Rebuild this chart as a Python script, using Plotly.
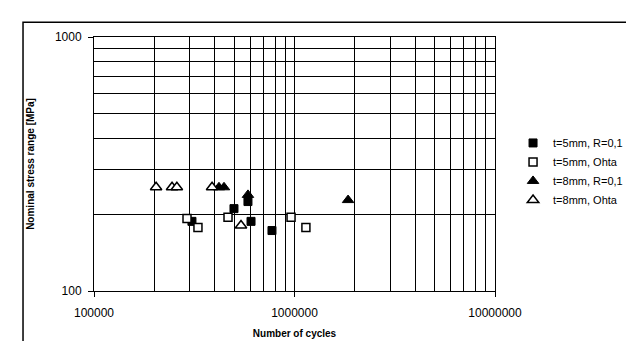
import plotly.graph_objects as go

# ---- data ----
cycles_5mm_r01 = [3.08e5, 4.99e5, 5.86e5, 6.07e5, 7.72e5]
stress_5mm_r01 = [188, 211, 225, 188, 173]

cycles_5mm_ohta = [2.91e5, 3.30e5, 4.66e5, 9.61e5, 1.14e6]
stress_5mm_ohta = [193, 178, 195, 195, 178]

cycles_8mm_r01 = [4.20e5, 4.45e5, 5.86e5, 1.85e6]
stress_8mm_r01 = [256, 256, 239, 228]

cycles_8mm_ohta = [2.04e5, 2.45e5, 2.59e5, 3.88e5, 5.41e5]
stress_8mm_ohta = [256, 256, 256, 256, 181]

x_major = [1e5, 1e6, 1e7]
x_major_text = ["100000", "1000000", "10000000"]
y_major = [100, 1000]
y_major_text = ["100", "1000"]
x_minor = [m * 10 ** e for e in (5, 6) for m in range(2, 10)]
y_minor = [m * 100 for m in range(2, 10)]

FONT = "Liberation Sans, Arial, sans-serif"

fig = go.Figure()

fig.add_trace(go.Scatter(
    x=cycles_5mm_r01, y=stress_5mm_r01, mode="markers", name="t=5mm, R=0,1",
    marker=dict(symbol="square", size=8, color="black", line=dict(color="black", width=1))))
fig.add_trace(go.Scatter(
    x=cycles_5mm_ohta, y=stress_5mm_ohta, mode="markers", name="t=5mm, Ohta",
    marker=dict(symbol="square", size=8, color="white", line=dict(color="black", width=1.5))))
fig.add_trace(go.Scatter(
    x=cycles_8mm_r01, y=stress_8mm_r01, mode="markers", name="t=8mm, R=0,1",
    marker=dict(symbol="triangle-up", size=10, color="black", line=dict(color="black", width=1))))
fig.add_trace(go.Scatter(
    x=cycles_8mm_ohta, y=stress_8mm_ohta, mode="markers", name="t=8mm, Ohta",
    marker=dict(symbol="triangle-up", size=10, color="white", line=dict(color="black", width=1.5))))

fig.update_layout(
    width=634, height=341,
    margin=dict(l=86, r=147, t=29, b=53),
    paper_bgcolor="white", plot_bgcolor="white",
    font=dict(family=FONT, color="black", size=12),
    legend=dict(x=1.045, y=0.64, xanchor="left", yanchor="top",
                font=dict(size=11, family=FONT), bgcolor="rgba(0,0,0,0)",
                itemwidth=30, tracegroupgap=0),
    shapes=[dict(type="rect", xref="paper", yref="paper",
                 x0=-0.177, x1=1.359, y0=-0.3, y1=1.058,
                 line=dict(color="black", width=1.5), fillcolor="rgba(0,0,0,0)",
                 layer="below")],
)

fig.update_xaxes(
    type="log", range=[5, 7],
    tickmode="array", tickvals=x_major, ticktext=x_major_text,
    ticks="outside", ticklen=5, tickcolor="black",
    showline=True, linecolor="black", linewidth=1, mirror=True,
    showgrid=True, gridcolor="black", gridwidth=1,
    minor=dict(tickmode="array", tickvals=x_minor, showgrid=True,
               gridcolor="black", gridwidth=1, ticks=""),
    tickfont=dict(size=12), ticklabelstandoff=6,
    title=dict(text="<b>Number of cycles</b>", font=dict(size=10), standoff=10),
    zeroline=False,
)
fig.update_yaxes(
    type="log", range=[2, 3],
    tickmode="array", tickvals=y_major, ticktext=y_major_text,
    ticks="outside", ticklen=5, tickcolor="black",
    showline=True, linecolor="black", linewidth=1, mirror=True,
    showgrid=True, gridcolor="black", gridwidth=1,
    minor=dict(tickmode="array", tickvals=y_minor, showgrid=True,
               gridcolor="black", gridwidth=1, ticks=""),
    tickfont=dict(size=12), ticklabelstandoff=4,
    title=dict(text="<b>Nominal stress range [MPa]</b>", font=dict(size=10), standoff=18),
    zeroline=False,
)

fig.write_html("out.html")
